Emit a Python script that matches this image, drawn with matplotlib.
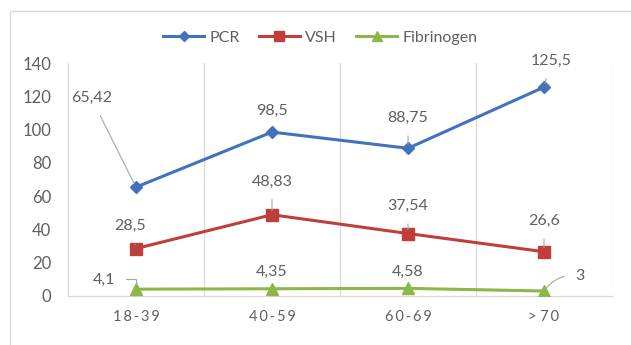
import matplotlib
matplotlib.use("Agg")
import matplotlib.pyplot as plt
from matplotlib.patches import Rectangle
from matplotlib.lines import Line2D

plt.rcParams['font.family'] = ['Lato', 'DejaVu Sans']

categories = ["18-39", "40-59", "60-69", "> 70"]
pcr = [65.42, 98.5, 88.75, 125.5]
vsh = [28.5, 48.83, 37.54, 26.6]
fibrinogen = [4.1, 4.35, 4.58, 3]
y_ticks = [0, 20, 40, 60, 80, 100, 120, 140]

blue = "#4272BE"
red = "#BE3F3A"
green = "#8DB747"
text_gray = "#5F5F5F"
grid_gray = "#D9D9D9"

W, H = 631, 345
fig = plt.figure(figsize=(W / 100, H / 100), dpi=100)

# outer chart frame
fig.add_artist(Rectangle((10 / W, -0.05), 1.1, 1 - 11 / H + 0.05,
                         transform=fig.transFigure, fill=False,
                         edgecolor="#D9D9D9", linewidth=1.0))

ax = fig.add_axes([68 / W, 1 - 296 / H, (612 - 68) / W, (296 - 63) / H])
x = list(range(len(categories)))
ax.set_xlim(-0.5, len(categories) - 0.5)
ax.set_ylim(0, 140)

# category separators
for b in [i + 0.5 for i in range(len(categories))]:
    ax.axvline(b, color=grid_gray, linewidth=0.9, zorder=0)
for s in ["top", "right"]:
    ax.spines[s].set_visible(False)
for s in ["left", "bottom"]:
    ax.spines[s].set_color(grid_gray)
    ax.spines[s].set_linewidth(0.9)

ax.plot(x, pcr, color=blue, linewidth=2.2, marker="D", markersize=6, label="PCR", zorder=3)
ax.plot(x, vsh, color=red, linewidth=2.2, marker="s", markersize=8, label="VSH", zorder=3)
ax.plot(x, fibrinogen, color=green, linewidth=2.2, marker="^", markersize=8, label="Fibrinogen", zorder=3)

ax.set_yticks(y_ticks)
ax.set_yticklabels([str(t) for t in y_ticks], fontsize=12)
ax.set_xticks(x)
# category labels are set with wide letter spacing
ax.set_xticklabels(["\u2009".join(c.replace(" ", "")) if c[0] != ">" else "> 7\u20090"
                    for c in categories], fontsize=10.5)
ax.tick_params(axis="both", length=0, colors=text_gray)
ax.tick_params(axis="y", pad=12)
ax.tick_params(axis="x", pad=10)


def fmt(v):
    return ("%g" % v).replace(".", ",")


# data labels with leader lines: (x offset, y offset) in points
offsets = {
    "pcr": [(-32, 64), (0, 15), (0, 22), (5, 19)],
    "vsh": [(-4, 16), (0, 24), (0, 20), (0, 22)],
    "fib": [(-23, 7), (0, 12), (0, 12), (26, 11)],
}
leaders = {
    "pcr": [True, False, True, True],
    "vsh": [True, True, True, True],
    "fib": [True, False, False, True],
}
styles = {("fib", 0): "angle,angleA=0,angleB=90,rad=0",
          ("fib", 3): "arc3,rad=0.3"}
for key, vals in (("pcr", pcr), ("vsh", vsh), ("fib", fibrinogen)):
    for i, v in enumerate(vals):
        dx, dy = offsets[key][i]
        arrow = None
        if leaders[key][i]:
            arrow = dict(arrowstyle="-", color="#A6A6A6", linewidth=0.8,
                         shrinkA=6, shrinkB=3,
                         connectionstyle=styles.get((key, i), "arc3"))
        ax.annotate(fmt(v), xy=(i, v), xytext=(dx, dy), textcoords="offset points",
                    ha="center", va="center", fontsize=11.5, color=text_gray,
                    arrowprops=arrow, zorder=4)

handles = [
    Line2D([], [], color=blue, linewidth=2.2, marker="D", markersize=5),
    Line2D([], [], color=red, linewidth=2.2, marker="s", markersize=7),
    Line2D([], [], color=green, linewidth=2.2, marker="^", markersize=7),
]
fig.legend(handles, ["PCR", "VSH", "Fibrinogen"], loc="center",
           bbox_to_anchor=(320 / W, 1 - 38 / H), ncol=3, frameon=False,
           fontsize=11.5, labelcolor=text_gray, handlelength=2.6,
           columnspacing=1.2, handletextpad=0.3)

fig.savefig("out.png", dpi=100, facecolor="white")
